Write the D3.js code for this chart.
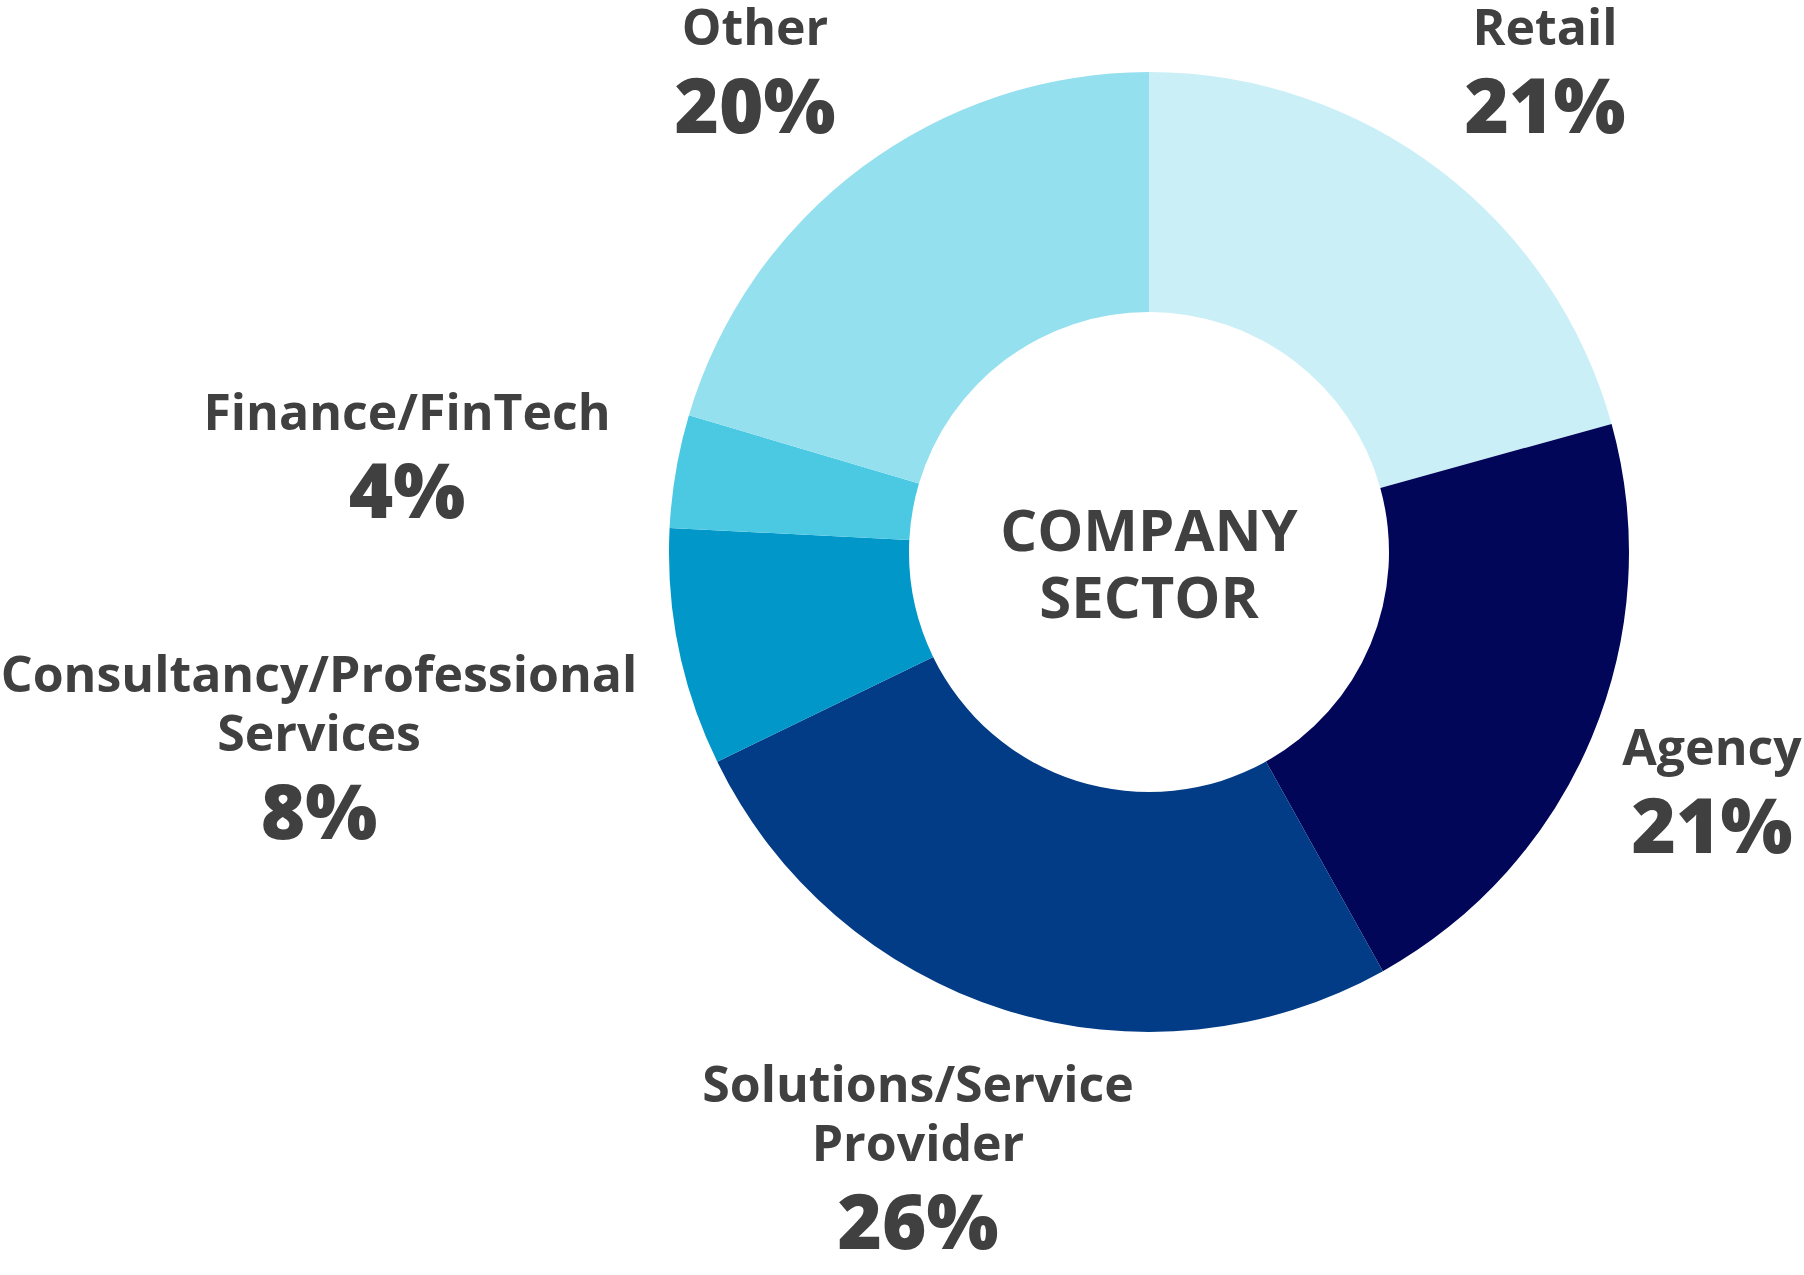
<!DOCTYPE html>
<html>
<head>
<meta charset="utf-8">
<script src="https://cdn.jsdelivr.net/npm/d3@7"></script>
<style>
  html, body { margin: 0; padding: 0; background: #ffffff; }
  svg { display: block; }
  text { font-family: "Open Sans", sans-serif; fill: #404040; }
</style>
</head>
<body>
<script>
// Data
const categories = ["Retail", "Agency", "Solutions/Service Provider", "Consultancy/Professional Services", "Finance/FinTech", "Other"];
const labelLines = [["Retail"], ["Agency"], ["Solutions/Service", "Provider"], ["Consultancy/Professional", "Services"], ["Finance/FinTech"], ["Other"]];
const shares = [20.7, 21.2, 25.9, 8.0, 3.8, 20.4];
const colors = ["#cbeff7", "#020659", "#033c86", "#0198c9", "#4bc9e3", "#94e0ef"];
const centerTitle = ["COMPANY", "SECTOR"];

const W = 1804, H = 1275;
const cx = 1149, cy = 552, R = 480, r = 240;

// label anchor positions (center x, baseline of first label line)
const labelPos = [
  {x: 1545, y: 45},
  {x: 1712, y: 765},
  {x: 918, y: 1102},
  {x: 319, y: 692},
  {x: 407, y: 430},
  {x: 755, y: 45}
];

const svg = d3.select("body").append("svg").attr("width", W).attr("height", H);

const pie = d3.pie().sort(null).value(d => d)(shares);
const arc = d3.arc().innerRadius(r).outerRadius(R);

const g = svg.append("g").attr("transform", `translate(${cx},${cy})`);
g.selectAll("path").data(pie).join("path")
  .attr("d", arc)
  .attr("fill", (d, i) => colors[i]);

// center title
svg.append("g").selectAll("text").data(centerTitle).join("text")
  .attr("x", cx).attr("y", (d, i) => 551 + i * 67)
  .attr("text-anchor", "middle")
  .attr("font-size", 58).attr("font-weight", 700)
  .text(d => d);

// labels
const lg = svg.append("g");
labelLines.forEach((lines, i) => {
  const p = labelPos[i];
  lines.forEach((t, j) => {
    lg.append("text")
      .attr("x", p.x).attr("y", p.y + j * 59)
      .attr("text-anchor", "middle")
      .attr("font-size", 50).attr("font-weight", 700)
      .text(t);
  });
  lg.append("text")
    .attr("x", p.x).attr("y", p.y + (lines.length - 1) * 59 + 88)
    .attr("text-anchor", "middle")
    .attr("font-size", 76).attr("font-weight", 800)
    .text(Math.round(shares[i]) + "%");
});
</script>
</body>
</html>
